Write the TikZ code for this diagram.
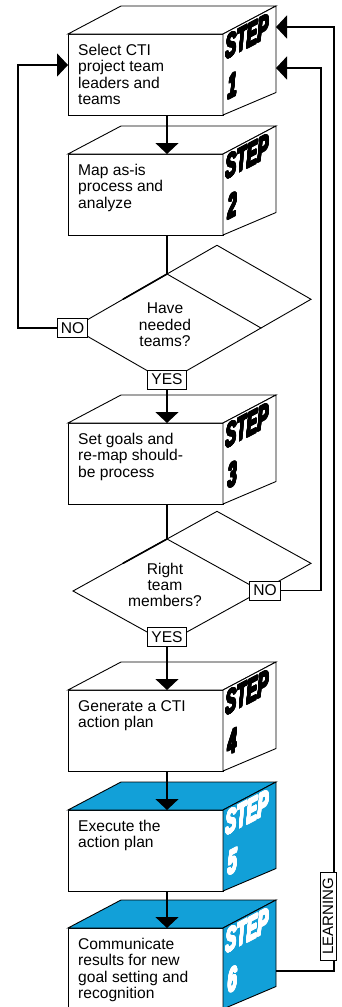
\documentclass[tikz,border=0pt]{standalone}
\usepackage{fontspec}
\usepackage[copies]{contour}
\setmainfont{Liberation Sans}
\newfontfamily\stepfont{Liberation Sans}[UprightFont=* Bold Italic]
\usetikzlibrary{arrows.meta}
\definecolor{stepblue}{RGB}{18,160,216}
\contourlength{1.1pt}
\contournumber{16}

\newcommand\bodysize{\fontsize{15.6}{16.3}\selectfont}
\newcommand\stepsize{\stepfont\fontsize{33}{33}\selectfont}

\tikzset{
  face/.style={draw=black, line width=0.9pt, line join=miter},
  flow/.style={draw=black, line width=1.3pt},
  loopline/.style={draw=black, line width=1.8pt},
  tip/.style={-{Triangle[length=11pt,width=23pt]}},
  tag/.style={draw=black, fill=white, line width=0.9pt, inner xsep=3.5pt,
              inner ysep=1pt, minimum height=19pt, font=\bodysize},
  boxtext/.style={anchor=north west, align=left, inner sep=0pt, font=\bodysize},
  steplabel/.style={anchor=base west, inner sep=0pt, transform shape,
                    xscale=0.5, font=\stepsize},
  learn/.style={draw=black, fill=white, line width=0.9pt, rotate=90,
                minimum width=88pt, minimum height=16pt, inner sep=1pt,
                font=\fontsize{15}{15}\selectfont},
}

% A step drawn as a box: front face, top face, right face with "STEP n"
% #1 name, #2 top of front face, #3 face colour, #4 colour of STEP, #5 number, #6 text
\newcommand\stepcube[6]{%
  \begin{scope}[yshift=-#2]
    \path[face, fill=white] (68,0) rectangle (223,-81);
    \path[face, fill=#3] (68,0) -- (121,28) -- (276,28) -- (223,0) -- cycle;
    \path[face, fill=#3] (223,0) -- (276,28) -- (276,-58.5) -- (223,-81) -- cycle;
    \node[boxtext] (#1) at (78,-10) {#6};
    \coordinate (#1-in) at (167,0);
    \coordinate (#1-out) at (167,-81);
    \begin{scope}[shift={(223,0)}, yslant=0.528]
      \node[steplabel, text=#4] at (2.5,-27) {\contour{#4}{STEP}};
      \node[steplabel, text=#4] at (5,-68) {\contour{#4}{#5}};
    \end{scope}
  \end{scope}}

% A decision drawn as a diamond with a shifted copy behind it
% #1 name, #2 centre, #3 half height, #4 text, #5 text offset
\newcommand\decision[5]{%
  \begin{scope}[yshift=-#2]
    \coordinate (#1-T) at (167,#3);
    \coordinate (#1-R) at (261,0);
    \coordinate (#1-B) at (167,-#3);
    \coordinate (#1-L) at (73,0);
    \path[face] (123,0.532*#3) -- (217,1.532*#3) -- (311,0.532*#3) -- (#1-R);
    \path[face, fill=white] (#1-L) -- (#1-T) -- (#1-R) -- (#1-B) -- cycle;
    \path[face, line width=1.6pt] (123,0.532*#3) -- (#1-T);
    \node[align=center, inner sep=0pt, font=\bodysize] (#1) at (165,#5) {#4};
  \end{scope}}

\begin{document}
\begin{tikzpicture}[x=1pt,y=1pt]
  \useasboundingbox (0,0) rectangle (341,-1007);
  \clip (0,0) rectangle (341,-1007);

  \stepcube{cube1}{34}{white}{black}{1}{Select CTI\\project team\\leaders and\\teams}
  \stepcube{cube2}{154}{white}{black}{2}{Map as-is\\process and\\analyze}
  \decision{d1}{328}{54}{Have\\needed\\teams?}{3}
  \stepcube{cube3}{423}{white}{black}{3}{Set goals and\\re-map should-\\be process}
  \decision{d2}{591}{52}{Right\\team\\members?}{6}
  \stepcube{cube4}{690}{white}{black}{4}{Generate a CTI\\action plan}
  \stepcube{cube5}{810}{stepblue}{white}{5}{Execute the\\action plan}
  \stepcube{cube6}{928}{stepblue}{white}{6}{Communicate\\results for new\\goal setting and\\recognition}

  % ports on the first and last steps
  \coordinate (cube1-west) at (68,-65);
  \coordinate (cube1-easta) at (276,-27);
  \coordinate (cube1-eastb) at (276,-68);
  \coordinate (cube6-east) at (276,-971);

  % main flow
  \draw[flow, tip] (cube1-out) -- (cube2-in);
  \draw[flow] (cube2-out) -- (d1-T);
  \draw[flow] (cube3-out) -- (d2-T);

  \node[tag] (no1) at (72.5,-328) {NO};
  \node[tag] (yes1) at (167,-379.5) {YES};
  \node[tag] (no2) at (265,-590.5) {NO};
  \node[tag] (yes2) at (167,-637) {YES};

  \draw[flow, tip] (yes1.south) -- (cube3-in);
  \draw[flow, tip] (yes2.south) -- (cube4-in);
  \draw[flow, tip] (cube4-out) -- (cube5-in);
  \draw[flow, tip] (cube5-out) -- (cube6-in);

  % feedback loops
  \coordinate (k1) at (18,-65);
  \coordinate (k2) at (321,-68);
  \coordinate (k3) at (334,-27);
  \draw[loopline, tip] (no1.west) -| (k1) -- (cube1-west);
  \draw[loopline, tip] (no2.east) -| (k2) -- (cube1-eastb);
  \draw[loopline, tip] (cube6-east) -| (k3) -- (cube1-easta);
  \node[learn] (learn) at (328,-916) {LEARNING};
\end{tikzpicture}
\end{document}
